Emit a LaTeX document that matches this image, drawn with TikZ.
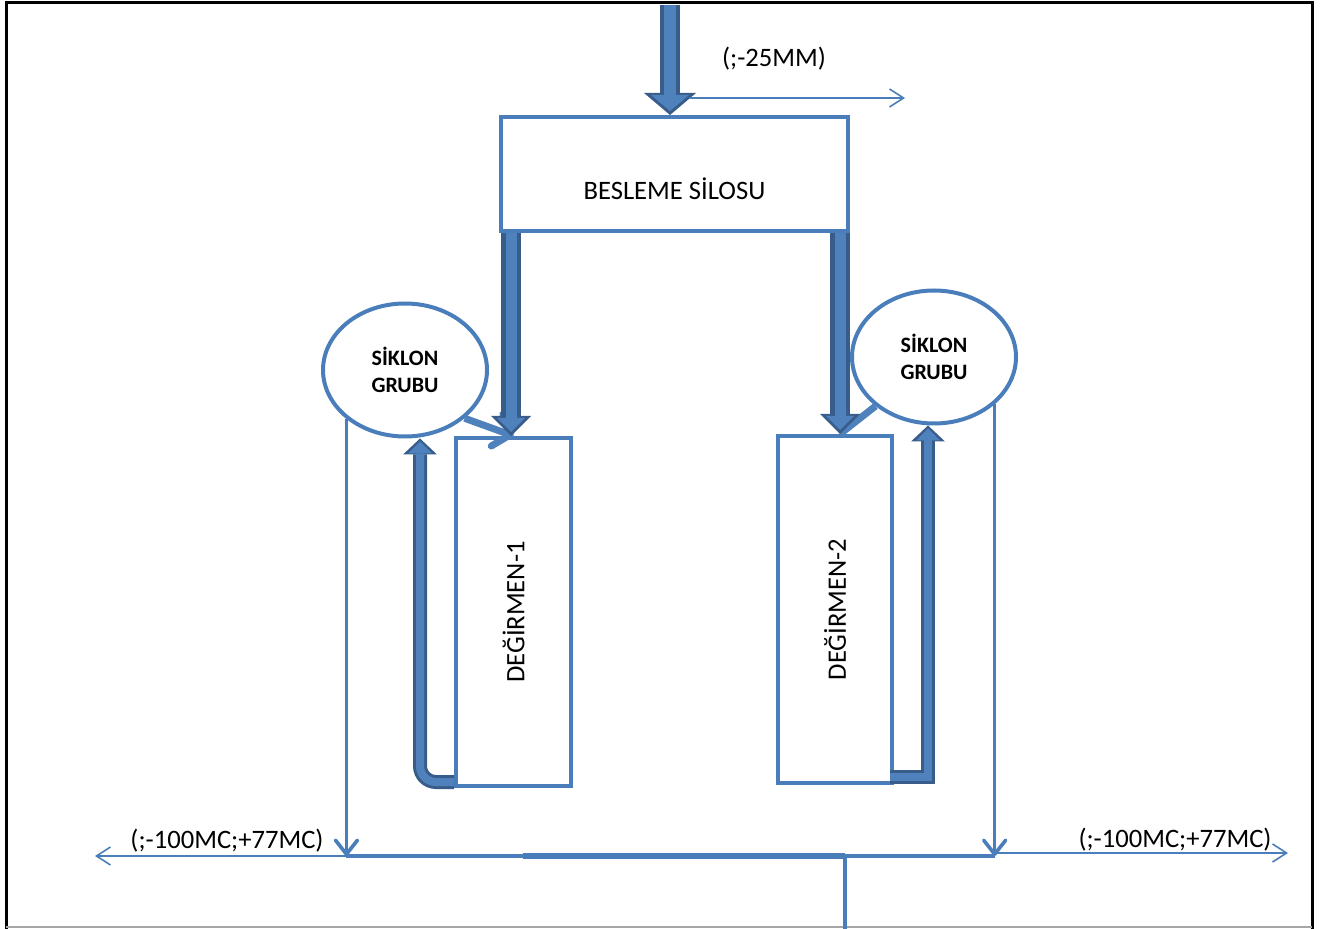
\documentclass[tikz,border=0pt]{standalone}
\usepackage{fontspec}
\setmainfont{Carlito}
\usetikzlibrary{arrows.meta,shapes.geometric}
\definecolor{fillblue}{HTML}{4F81BD}
\definecolor{edgeblue}{HTML}{385D8A}
\definecolor{lineblue}{HTML}{4A7EBB}
\tikzset{
  box/.style={draw=lineblue, line width=2pt, fill=white, inner sep=0pt},
  cyclone/.style={ellipse, draw=lineblue, line width=2pt, fill=white, inner sep=0pt,
    minimum width=82pt, minimum height=66.5pt, align=center,
    font=\fontsize{11}{13.5}\selectfont\bfseries},
  tag/.style={inner sep=0pt, font=\fontsize{13.3}{16}\selectfont},
  feed/.style={draw=fillblue, line width=6pt, shorten >=2pt,
    -{Triangle[length=8pt,width=19pt,line width=0pt]},
    preaction={draw=edgeblue, line width=10pt, shorten >=0pt,
      -{Triangle[length=11pt,width=26pt,line width=0pt]}}},
  charge/.style={draw=fillblue, line width=5.5pt, shorten >=2pt,
    -{Triangle[length=7pt,width=14pt,line width=0pt]},
    preaction={draw=edgeblue, line width=10pt, shorten >=0pt,
      -{Triangle[length=10pt,width=20pt,line width=0pt]}}},
  recycle/.style={draw=fillblue, line width=4pt, shorten >=1.5pt,
    -{Triangle[length=6pt,width=12pt,line width=0pt]},
    preaction={draw=edgeblue, line width=7pt, shorten >=0pt,
      -{Triangle[length=8pt,width=17pt,line width=0pt]}}},
  vent/.style={draw=fillblue, line width=3.5pt,
    -{Straight Barb[length=7pt,width=17pt,round]}},
  drop/.style={draw=lineblue, line width=1.8pt,
    -{Straight Barb[length=7pt,width=11pt,round]}},
  pipe/.style={draw=lineblue, line width=1.8pt},
  outflow/.style={draw=lineblue, line width=0.8pt,
    -{Straight Barb[length=7pt,width=9pt]}}
}
\begin{document}
\begin{tikzpicture}[x=0.5pt,y=-0.5pt]
  \useasboundingbox (0,0) rectangle (1331,929);

  % page frame
  \draw[line width=1.5pt] (6,929) -- (6,3) -- (1312,3) -- (1312,929);
  \draw[gray!70, line width=1pt] (6,927) -- (1312,927);

  % silo, cyclones and mills
  \node[box, minimum width=173.5pt, minimum height=57pt,
    label={[tag, yshift=-7.5pt]center:BESLEME SİLOSU}] (silo) at (674.5,174) {};
  \node[cyclone] (siklonA) at (405,370) {SİKLON\\GRUBU};
  \node[cyclone] (siklonB) at (934,357) {SİKLON\\GRUBU};
  \node[box, minimum width=57.5pt, minimum height=174pt,
    label={[tag, rotate=90]center:DEĞİRMEN-1}] (degA) at (513.5,612) {};
  \node[box, minimum width=57pt, minimum height=173.5pt,
    label={[tag, rotate=90]center:DEĞİRMEN-2}] (degB) at (835,609.5) {};

  % feed from the top
  \coordinate (feedin) at (670,5);
  \draw[feed] (feedin) -- (feedin |- silo.north);
  \coordinate (gasA) at (690,98);
  \coordinate (gasB) at (905,98);
  \draw[outflow] (gasA) -- (gasB);
  \node[tag] (gastag) at (774,59) {(;-25MM)};

  % silo to mills
  \coordinate (inA) at ([xshift=-1.25pt]degA.north);
  \coordinate (inB) at ([xshift=2.5pt]degB.north);
  \draw[vent] (siklonA.-39) -- (degA.north);
  \draw[vent, -] (siklonB.220) -- (inB);
  \draw[charge] (silo.south -| inA) -- (inA);
  \draw[charge] (silo.south -| inB) -- (inB);

  % mills back to cyclones
  \draw[recycle, rounded corners=8pt] ([yshift=3pt]degA.south west) -| ([xshift=7.5pt]siklonA.south);
  \draw[recycle] ([shift={(-2pt,4pt)}]degB.south east) -| ([xshift=-3pt]siklonB.south);

  % cyclones down to the collecting line
  \coordinate (bus) at (0,856);
  \coordinate (busL) at (siklonA.220 |- bus);
  \coordinate (busR) at (siklonB.-38 |- bus);
  \draw[drop] (siklonA.220) -- (busL);
  \draw[drop] (siklonB.-38) -- (busR);
  \draw[pipe] (busL) -- (busR);
  \coordinate (mixin) at (523,856);
  \coordinate (outlet) at (845,856);
  \coordinate (drain) at (845,929);
  \draw[pipe, line width=3pt] (mixin) -- (outlet);
  \draw[pipe] (outlet) -- (drain);

  % products
  \coordinate (dustL) at (95,856);
  \coordinate (dustR) at (1288,853);
  \draw[outflow] (busL) -- (dustL);
  \draw[outflow] (busR |- dustR) -- (dustR);
  \node[tag] (dusttagL) at (227,841) {(;-100MC;+77MC)};
  \node[tag] (dusttagR) at (1175,840) {(;-100MC;+77MC)};
\end{tikzpicture}
\end{document}
